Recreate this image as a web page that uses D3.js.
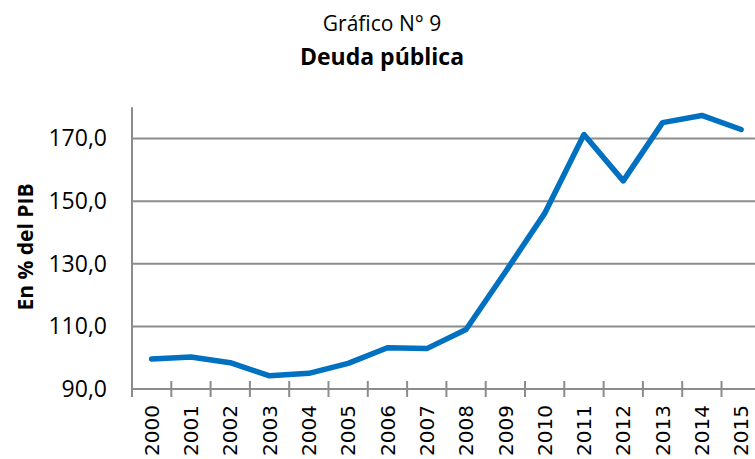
<!DOCTYPE html>
<html>
<head>
<meta charset="utf-8">
<script src="https://cdn.jsdelivr.net/npm/d3@7"></script>
<style>
  body { margin: 0; background: #fff; }
  svg { display: block; }
</style>
</head>
<body>
<div id="chart"></div>
<script>
const years = ["2000","2001","2002","2003","2004","2005","2006","2007",
  "2008","2009","2010","2011","2012","2013","2014","2015"];
const deuda = [99.6, 100.2, 98.4, 94.2, 95.0, 98.2, 103.2, 102.9,
  109.0, 127.4, 146.1, 171.3, 156.5, 175.1, 177.4, 172.9];
const yTicks = [90, 110, 130, 150, 170];

const width = 755, height = 459;
const plotLeft = 132, plotBottom = 389, plotTop = 107.3, band = 39.3;

const svg = d3.select("#chart").append("svg")
  .attr("width", width).attr("height", height);

// titles
svg.append("text")
  .attr("x", 382).attr("y", 31)
  .attr("text-anchor", "middle")
  .attr("font-family", "Open Sans")
  .attr("font-size", 21)
  .text("Gráfico N° 9");
svg.append("text")
  .attr("x", 382).attr("y", 65)
  .attr("text-anchor", "middle")
  .attr("font-family", "Open Sans")
  .attr("font-weight", "bold")
  .attr("font-size", 23)
  .text("Deuda pública");

const x = d3.scaleBand().domain(years).range([plotLeft, plotLeft + band * years.length]);
const y = d3.scaleLinear().domain([90, 180]).range([plotBottom, plotTop]);

// gridlines
svg.append("g")
  .selectAll("line")
  .data(yTicks.filter(d => d > 90))
  .enter().append("line")
  .attr("x1", plotLeft).attr("x2", width)
  .attr("y1", d => y(d)).attr("y2", d => y(d))
  .attr("stroke", "#8c8c8c").attr("stroke-width", 2);

// y axis labels
const fmt = d => d3.format(".1f")(d).replace(".", ",");
const yAxis = svg.append("g")
  .attr("transform", `translate(${plotLeft},0)`)
  .call(d3.axisLeft(y).tickValues(yTicks).tickFormat(fmt).tickSize(0).tickPadding(25));
yAxis.select(".domain").remove();
yAxis.selectAll("text")
  .attr("font-family", "Open Sans")
  .attr("font-size", 23)
  .attr("fill", "#000");

// axis lines
svg.append("line")
  .attr("x1", plotLeft).attr("x2", plotLeft)
  .attr("y1", y(180)).attr("y2", plotBottom + 8)
  .attr("stroke", "#8c8c8c").attr("stroke-width", 2);
svg.append("line")
  .attr("x1", plotLeft).attr("x2", width)
  .attr("y1", plotBottom).attr("y2", plotBottom)
  .attr("stroke", "#8c8c8c").attr("stroke-width", 2);

// x ticks at band edges (crossing the axis)
svg.append("g")
  .selectAll("line")
  .data(years.slice(1).concat(["end"]))
  .enter().append("line")
  .attr("x1", d => d === "end" ? x.range()[1] : x(d))
  .attr("x2", d => d === "end" ? x.range()[1] : x(d))
  .attr("y1", plotBottom - 8).attr("y2", plotBottom + 8)
  .attr("stroke", "#8c8c8c").attr("stroke-width", 2);

// x labels
const xAxis = svg.append("g")
  .attr("transform", `translate(0,${plotBottom})`)
  .call(d3.axisBottom(x).tickSize(0));
xAxis.select(".domain").remove();
xAxis.selectAll("text")
  .attr("font-family", "DejaVu Sans")
  .attr("font-size", 20)
  .attr("fill", "#000")
  .attr("text-anchor", "end")
  .attr("transform", "rotate(-90)")
  .attr("x", -16)
  .attr("y", 0)
  .attr("dy", "0.36em");

// y axis title
svg.append("text")
  .attr("transform", "translate(33,247) rotate(-90)")
  .attr("text-anchor", "middle")
  .attr("font-family", "Open Sans")
  .attr("font-weight", "bold")
  .attr("font-size", 21)
  .text("En % del PIB");

// line
const line = d3.line()
  .x((d, i) => x(years[i]) + x.bandwidth() / 2)
  .y(d => y(d));
svg.append("path")
  .datum(deuda)
  .attr("d", line)
  .attr("fill", "none")
  .attr("stroke", "#0070C0")
  .attr("stroke-width", 5.5)
  .attr("stroke-linejoin", "round")
  .attr("stroke-linecap", "round");
</script>
</body>
</html>
